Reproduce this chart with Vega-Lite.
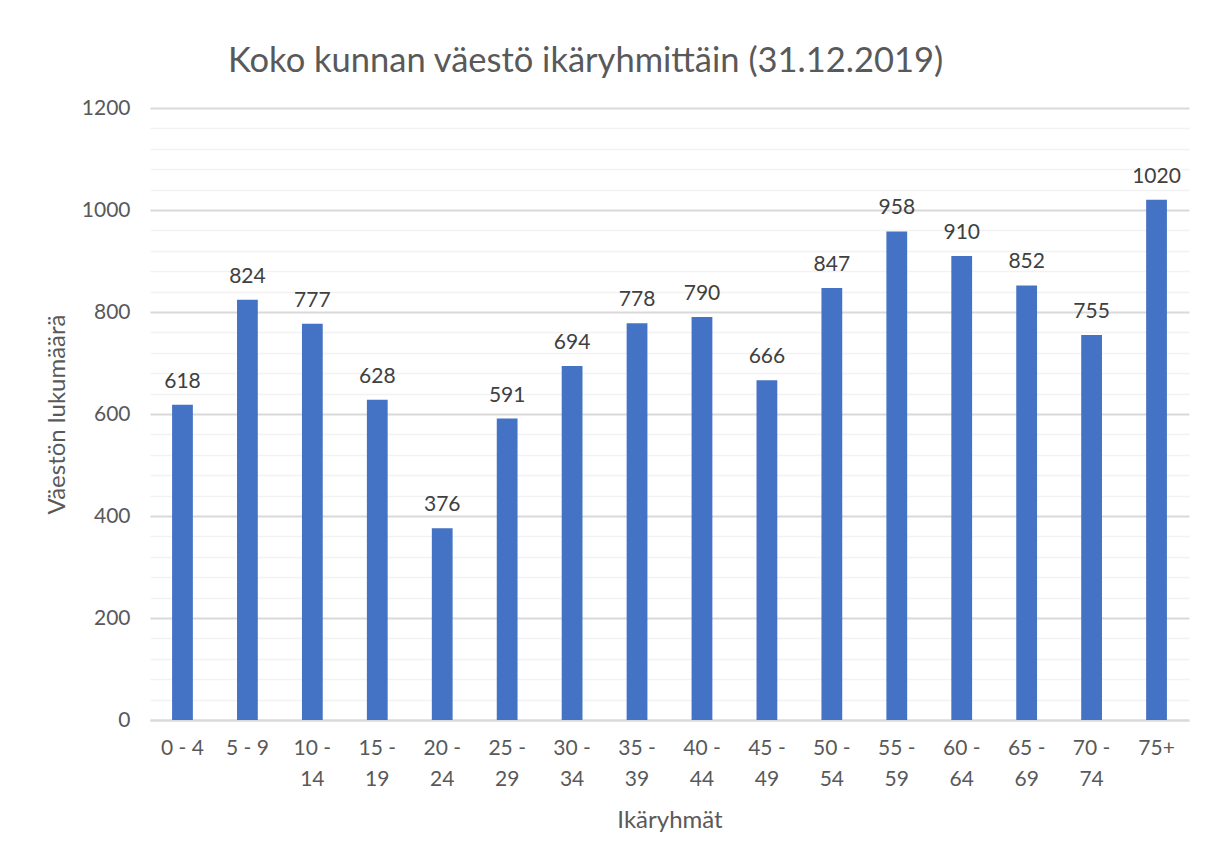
{
  "$schema": "https://vega.github.io/schema/vega-lite/v6.json",
  "width": 1039,
  "height": 612,
  "autosize": "none",
  "padding": {"left": 150, "top": 108, "right": 30, "bottom": 143},
  "background": "white",
  "config": {
    "view": {"stroke": null},
    "font": "Lato",
    "text": {"font": "Lato"}
  },
  "title": {
    "text": "Koko kunnan väestö ikäryhmittäin (31.12.2019)",
    "font": "Lato",
    "fontSize": 34.5,
    "fontWeight": "normal",
    "color": "#595959",
    "anchor": "start",
    "frame": "group",
    "baseline": "alphabetic",
    "dx": 78,
    "offset": -9
  },
  "data": {
    "values": [
      {"group": "0 - 4", "count": 618},
      {"group": "5 - 9", "count": 824},
      {"group": "10 - 14", "count": 777},
      {"group": "15 - 19", "count": 628},
      {"group": "20 - 24", "count": 376},
      {"group": "25 - 29", "count": 591},
      {"group": "30 - 34", "count": 694},
      {"group": "35 - 39", "count": 778},
      {"group": "40 - 44", "count": 790},
      {"group": "45 - 49", "count": 666},
      {"group": "50 - 54", "count": 847},
      {"group": "55 - 59", "count": 958},
      {"group": "60 - 64", "count": 910},
      {"group": "65 - 69", "count": 852},
      {"group": "70 - 74", "count": 755},
      {"group": "75+", "count": 1020}
    ]
  },
  "layer": [
    {
      "mark": {"type": "bar", "color": "#4472C4"},
      "encoding": {
        "x": {
          "field": "group",
          "type": "nominal",
          "sort": null,
          "scale": {"paddingInner": 0.68, "paddingOuter": 0.34},
          "axis": {
            "title": "Ikäryhmät",
            "titleFont": "Lato",
            "titleFontSize": 24,
            "titleFontWeight": "normal",
            "titleColor": "#595959",
            "titlePadding": 19,
            "labelAngle": 0,
            "labelFont": "Lato",
            "labelFontSize": 21,
            "labelColor": "#595959",
            "labelPadding": 17,
            "labelLineHeight": 31,
            "labelExpr": "length(datum.value) > 5 ? [substring(datum.value, 0, 4), substring(datum.value, 5)] : datum.value",
            "ticks": false,
            "domain": true,
            "domainColor": "#d9d9d9",
            "domainWidth": 2,
            "grid": false
          }
        },
        "y": {
          "field": "count",
          "type": "quantitative",
          "scale": {"domain": [0, 1200], "nice": false},
          "axis": {
            "title": "Väestön lukumäärä",
            "titleFont": "Lato",
            "titleFontSize": 24,
            "titleFontWeight": "normal",
            "titleColor": "#595959",
            "titlePadding": 12,
            "values": [0, 200, 400, 600, 800, 1000, 1200],
            "format": "d",
            "labelFont": "Lato",
            "labelFontSize": 21,
            "labelColor": "#595959",
            "labelPadding": 20,
            "ticks": false,
            "domain": false,
            "grid": true,
            "gridColor": "#d9d9d9",
            "gridWidth": 2
          }
        }
      }
    },
    {
      "mark": {"type": "text", "baseline": "alphabetic", "dy": -17, "fontSize": 21, "font": "Lato", "color": "#404040"},
      "encoding": {
        "x": {"field": "group", "type": "nominal", "sort": null},
        "y": {
          "field": "count",
          "type": "quantitative",
          "axis": {
            "orient": "right",
            "title": null,
            "labels": false,
            "ticks": false,
            "domain": false,
            "grid": true,
            "gridColor": "#f2f2f2",
            "gridWidth": 1.5,
            "values": [40, 80, 120, 160, 240, 280, 320, 360, 440, 480, 520, 560, 640, 680, 720, 760, 840, 880, 920, 960, 1040, 1080, 1120, 1160]
          }
        },
        "text": {"field": "count", "type": "quantitative"}
      }
    }
  ],
  "resolve": {"axis": {"y": "independent"}}
}
